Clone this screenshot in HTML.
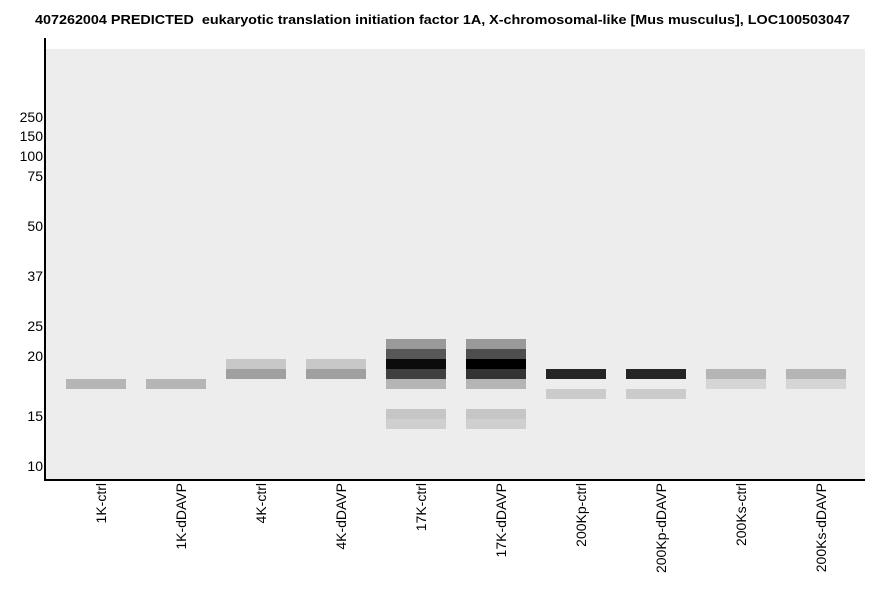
<!DOCTYPE html>
<html><head><style>body{margin:0;background:#fff}svg{display:block}</style></head><body>
<svg width="886" height="595" xmlns="http://www.w3.org/2000/svg" font-family="Liberation Sans, sans-serif">
<text x="35" y="24" font-size="13" font-weight="bold" fill="#000" textLength="815" lengthAdjust="spacingAndGlyphs" xml:space="preserve">407262004 PREDICTED  eukaryotic translation initiation factor 1A, X-chromosomal-like [Mus musculus], LOC100503047</text>
<rect x="46" y="49" width="819" height="430" fill="#ededed"/>
<g>
<rect x="66" y="379" width="60" height="10" fill="#b5b5b5"/>
<rect x="146" y="379" width="60" height="10" fill="#b5b5b5"/>
<rect x="226" y="359" width="60" height="10" fill="#c8c8c8"/>
<rect x="226" y="369" width="60" height="10" fill="#a0a0a0"/>
<rect x="306" y="359" width="60" height="10" fill="#c8c8c8"/>
<rect x="306" y="369" width="60" height="10" fill="#a0a0a0"/>
<rect x="386" y="339" width="60" height="10" fill="#9a9a9a"/>
<rect x="386" y="349" width="60" height="10" fill="#585858"/>
<rect x="386" y="359" width="60" height="10" fill="#0c0c0c"/>
<rect x="386" y="369" width="60" height="10" fill="#404040"/>
<rect x="386" y="379" width="60" height="10" fill="#b5b5b5"/>
<rect x="386" y="409" width="60" height="10" fill="#c6c6c6"/>
<rect x="386" y="419" width="60" height="10" fill="#cfcfcf"/>
<rect x="466" y="339" width="60" height="10" fill="#9a9a9a"/>
<rect x="466" y="349" width="60" height="10" fill="#4e4e4e"/>
<rect x="466" y="359" width="60" height="10" fill="#000"/>
<rect x="466" y="369" width="60" height="10" fill="#333"/>
<rect x="466" y="379" width="60" height="10" fill="#b5b5b5"/>
<rect x="466" y="409" width="60" height="10" fill="#c6c6c6"/>
<rect x="466" y="419" width="60" height="10" fill="#cfcfcf"/>
<rect x="546" y="369" width="60" height="10" fill="#252525"/>
<rect x="546" y="389" width="60" height="10" fill="#cbcbcb"/>
<rect x="626" y="369" width="60" height="10" fill="#252525"/>
<rect x="626" y="389" width="60" height="10" fill="#cbcbcb"/>
<rect x="706" y="369" width="60" height="10" fill="#b5b5b5"/>
<rect x="706" y="379" width="60" height="10" fill="#d5d5d5"/>
<rect x="786" y="369" width="60" height="10" fill="#b5b5b5"/>
<rect x="786" y="379" width="60" height="10" fill="#d5d5d5"/>
</g>
<rect x="44" y="38" width="2" height="443" fill="#000"/>
<rect x="44" y="479" width="821" height="2" fill="#000"/>
<g font-size="14" fill="#000" text-anchor="end">
<text x="43" y="122">250</text><text x="43" y="141">150</text><text x="43" y="161">100</text><text x="43" y="181">75</text>
<text x="43" y="231">50</text><text x="43" y="281">37</text><text x="43" y="331">25</text><text x="43" y="361">20</text>
<text x="43" y="421">15</text><text x="43" y="471">10</text>
</g>
<g font-size="14" fill="#000" text-anchor="end">
<text transform="translate(106,483) rotate(-90)">1K-ctrl</text>
<text transform="translate(186,483) rotate(-90)">1K-dDAVP</text>
<text transform="translate(266,483) rotate(-90)">4K-ctrl</text>
<text transform="translate(346,483) rotate(-90)">4K-dDAVP</text>
<text transform="translate(426,483) rotate(-90)">17K-ctrl</text>
<text transform="translate(506,483) rotate(-90)">17K-dDAVP</text>
<text transform="translate(586,483) rotate(-90)">200Kp-ctrl</text>
<text transform="translate(666,483) rotate(-90)">200Kp-dDAVP</text>
<text transform="translate(746,483) rotate(-90)">200Ks-ctrl</text>
<text transform="translate(826,483) rotate(-90)">200Ks-dDAVP</text>
</g>
</svg>
</body></html>
